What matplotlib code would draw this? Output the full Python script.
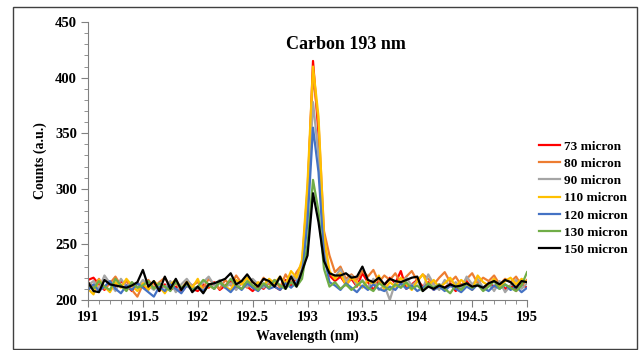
import numpy as np
import matplotlib
matplotlib.use("Agg")
import matplotlib.pyplot as plt
from matplotlib.ticker import MultipleLocator, FormatStrFormatter
from matplotlib.patches import Rectangle

plt.rcParams['font.family'] = ['Liberation Serif', 'DejaVu Serif']
plt.rcParams['font.weight'] = 'bold'

# longueurs d'onde (nm)
wavelength = np.round(np.arange(191.0, 195.0001, 0.05), 2)

labels = ["73 micron", "80 micron", "90 micron", "110 micron",
          "120 micron", "130 micron", "150 micron"]
colors = ["#FF0000", "#ED7D31", "#A5A5A5", "#FFC000",
          "#4472C4", "#70AD47", "#000000"]

c73 = [218, 220, 214, 209, 216, 211, 217, 213, 208, 215,
       212, 210, 216, 208, 214, 209, 212, 207, 213, 210,
       208, 214, 211, 216, 209, 213, 217, 210, 215, 212,
       208, 213, 210, 216, 212, 209, 218, 213, 220, 226,
       290, 415, 350, 250, 222,
       217, 221, 214, 219, 212, 224, 216, 209, 218, 213,
       220, 215, 226, 210, 214, 218, 212, 216, 209, 214,
       211, 215, 208, 213, 217, 210, 214, 209, 215, 212,
       216, 210, 213, 208, 214, 211]
c80 = [216, 212, 219, 210, 215, 221, 213, 217, 209, 203,
       214, 218, 211, 216, 220, 212, 215, 209, 217, 213,
       216, 211, 219, 214, 210, 218, 213, 222, 215, 211,
       217, 212, 220, 214, 218, 211, 223, 215, 225, 232,
       300, 402, 360, 262, 240,
       225, 230, 219, 223, 218, 226, 221, 227, 216, 222,
       218, 224, 215, 221, 226, 217, 223, 219, 214, 220,
       225, 216, 221, 213, 219, 224, 215, 220, 217, 222,
       214, 219, 216, 221, 213, 218]
c90 = [213, 217, 210, 222, 215, 208, 219, 212, 216, 211,
       218, 213, 209, 215, 211, 217, 207, 214, 219, 212,
       210, 216, 221, 213, 218, 211, 215, 209, 216, 212,
       219, 214, 211, 217, 213, 220, 215, 222, 218, 228,
       280, 378, 330, 245, 225,
       220, 228, 216, 222, 213, 218, 211, 219, 209, 213,
       200, 216, 211, 220, 213, 217, 210, 223, 214, 209,
       218, 212, 216, 210, 221, 214, 219, 211, 215, 208,
       217, 207, 213, 218, 210, 215]
c110 = [210, 205, 218, 212, 207, 216, 211, 219, 213, 208,
        215, 209, 217, 212, 206, 214, 218, 210, 216, 211,
        219, 207, 213, 210, 216, 212, 209, 218, 214, 220,
        211, 216, 213, 219, 215, 221, 214, 226, 220, 236,
        305, 410, 365, 258, 226,
        219, 224, 213, 220, 216, 211, 218, 214, 222, 209,
        216, 212, 220, 214, 209, 217, 223, 213, 218, 211,
        215, 220, 212, 218, 214, 209, 222, 216, 213, 219,
        211, 217, 220, 214, 219, 216]
c120 = [209, 214, 208, 212, 217, 210, 206, 213, 209, 215,
        211, 207, 203, 212, 208, 214, 210, 206, 213, 209,
        212, 208, 214, 210, 216, 211, 207, 213, 209, 215,
        211, 208, 214, 210, 212, 209, 215, 211, 216, 222,
        270, 355, 315, 240, 216,
        213, 209, 215, 211, 207, 213, 209, 214, 210, 208,
        212, 209, 215, 210, 213, 208, 211, 214, 209, 212,
        208, 213, 210, 207, 212, 209, 214, 211, 208, 213,
        210, 214, 209, 212, 207, 211]
c130 = [214, 210, 217, 212, 209, 219, 213, 208, 216, 211,
        213, 217, 210, 215, 212, 208, 216, 211, 214, 209,
        212, 218, 214, 210, 216, 212, 219, 213, 210, 217,
        213, 209, 215, 211, 218, 213, 210, 216, 212, 219,
        250, 308, 280, 228, 212,
        216, 210, 214, 209, 213, 217, 211, 208, 215, 212,
        209, 214, 211, 216, 210, 213, 208, 215, 211, 214,
        210, 206, 213, 209, 215, 211, 214, 208, 212, 217,
        210, 214, 211, 208, 213, 225]
c150 = [216, 208, 207, 218, 214, 213, 212, 211, 213, 216,
        227, 212, 217, 208, 221, 210, 219, 209, 216, 207,
        212, 206, 214, 215, 217, 219, 224, 214, 217, 223,
        216, 212, 219, 217, 212, 221, 210, 221, 212, 226,
        240, 296, 270, 235, 224,
        222, 222, 224, 220, 221, 230, 218, 216, 220, 214,
        219, 217, 216, 218, 220, 221, 208, 212, 210, 213,
        211, 214, 212, 213, 215, 212, 213, 211, 215, 217,
        214, 218, 216, 211, 217, 216]

series = [c73, c80, c90, c110, c120, c130, c150]

fig = plt.figure(figsize=(6.4, 3.5), dpi=100)
ax = fig.add_axes([0.1375, 0.143, 0.686, 0.794])

for ys, lab, col in zip(series, labels, colors):
    ax.plot(wavelength, ys, color=col, linewidth=1.6, label=lab)

ax.set_xlim(191, 195)
ax.set_ylim(200, 450)
ax.xaxis.set_major_locator(MultipleLocator(0.5))
ax.xaxis.set_minor_locator(MultipleLocator(0.1))
ax.xaxis.set_major_formatter(FormatStrFormatter('%g'))
ax.yaxis.set_major_locator(MultipleLocator(50))
ax.yaxis.set_minor_locator(MultipleLocator(10))
ax.tick_params(which='major', length=5, color='#808080', labelsize=10.5, pad=3)
ax.tick_params(which='minor', length=3, color='#808080')
for s in ['top', 'right']:
    ax.spines[s].set_visible(False)
for s in ['left', 'bottom']:
    ax.spines[s].set_color('#808080')
for lbl in ax.get_xticklabels() + ax.get_yticklabels():
    lbl.set_fontweight('bold')

ax.set_xlabel("Wavelength (nm)", fontsize=10, fontweight='bold', labelpad=4)
ax.set_ylabel("Counts (a.u.)", fontsize=10, fontweight='bold', labelpad=6)
ax.text(0.588, 0.92, "Carbon 193 nm", transform=ax.transAxes, ha='center',
        va='center', fontsize=13, fontweight='bold')

leg = ax.legend(loc='center left', bbox_to_anchor=(1.0, 0.366), frameon=False,
                handlelength=1.6, handletextpad=0.3, labelspacing=0.38,
                prop={'weight': 'bold', 'size': 9.5})

# cadre autour de la figure
fig.patches.append(Rectangle((13 / 640, 1 / 350), 624 / 640, 342 / 350,
                             transform=fig.transFigure, fill=False,
                             edgecolor='#404040', linewidth=1.0))

fig.savefig("out.png", dpi=100)
